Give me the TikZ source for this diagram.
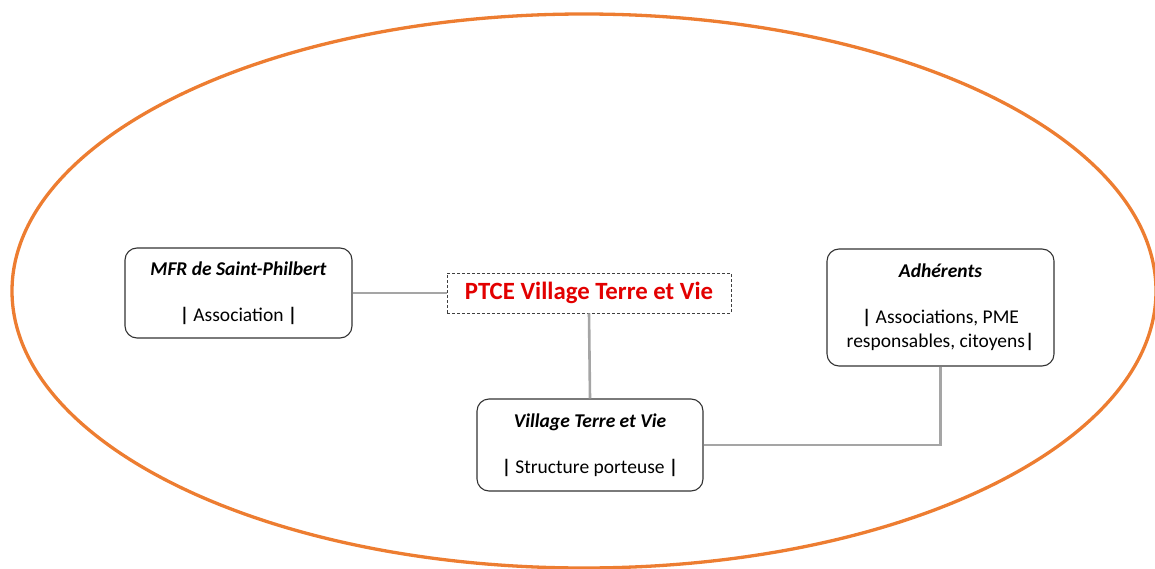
\documentclass[tikz,border=0pt]{standalone}
\usepackage{fontspec}
\setmainfont{Carlito}
\usepackage{xcolor}
\usetikzlibrary{positioning}
\definecolor{ptceorange}{RGB}{237,125,49}
\definecolor{ptcered}{RGB}{226,0,0}
\definecolor{linkgray}{RGB}{165,165,165}
\newcommand{\sepbar}{\textbf{|}}

\begin{document}
\begin{tikzpicture}[
    x=1pt, y=-1pt,
    every node/.style={font=\fontsize{19.5}{24}\selectfont},
    box/.style={draw=black!80, line width=1.1pt, rounded corners=12pt, fill=white, align=center, inner sep=0pt},
    ptcebox/.style={draw=black!75, dashed, dash pattern=on 3pt off 2pt, line width=0.9pt, minimum width=284pt, minimum height=40pt, inner sep=0pt, text=ptcered, font=\fontsize{24.8}{28}\selectfont\bfseries},
    link/.style={draw=linkgray, line width=2.6pt}
  ]
  \useasboundingbox (0,0) rectangle (1155,569);

  % outer ellipse
  \draw[ptceorange, line width=3.3pt] (584,291) ellipse (572pt and 277pt);

  % nodes
  \node[ptcebox] (ptce) at (589,293) {PTCE Village Terre et Vie};
  \node[box, minimum width=227pt, minimum height=90pt] (mfr) at (238.5,293)
    {\textbf{\textit{MFR de Saint-Philbert}}\\[22pt]\sepbar{} Association \sepbar};
  \node[box, minimum width=226pt, minimum height=92pt] (village) at (590,445)
    {\textbf{\textit{Village Terre et Vie}}\\[22pt]\sepbar{} Structure porteuse \sepbar};
  \node[box, minimum width=227pt, minimum height=117pt] (adh) at (940.5,307.5)
    {\textbf{\textit{Adhérents}}\\[22pt]\sepbar{} Associations, PME\\responsables, citoyens\sepbar};

  % links
  \draw[link] (mfr.east) -- (ptce.west);
  \draw[link] (ptce.south) -- (village.north);
  \draw[link] (village.east) -| (adh.south);
\end{tikzpicture}
\end{document}
